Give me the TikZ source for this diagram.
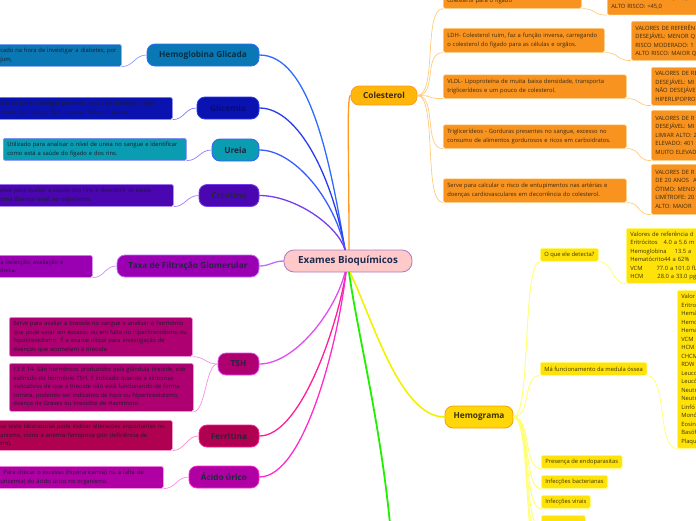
\documentclass[tikz,border=0pt]{standalone}
\usepackage{fontspec}
\setmainfont{Open Sans}
\usepackage{xcolor}

% colours of the branches
\definecolor{exfill}{HTML}{FFC9C9}
\definecolor{exline}{HTML}{A77BC2}
\definecolor{extext}{HTML}{1C2B4F}
\definecolor{inktext}{HTML}{1C1C2C}
\definecolor{topictext}{HTML}{24253F}
\definecolor{hglfill}{HTML}{0A78B4}
\definecolor{hglline}{HTML}{2F6BFF}
\definecolor{hglsoft}{HTML}{8A9CFF}
\definecolor{glifill}{HTML}{0A12B0}
\definecolor{gliline}{HTML}{2A3AF0}
\definecolor{glisoft}{HTML}{7C7CFF}
\definecolor{urefill}{HTML}{0A9CB0}
\definecolor{ureline}{HTML}{3A5CFF}
\definecolor{uresoft}{HTML}{8C7CFF}
\definecolor{crefill}{HTML}{4A06B0}
\definecolor{creline}{HTML}{7A3CF0}
\definecolor{cresoft}{HTML}{A57CFF}
\definecolor{tfgfill}{HTML}{9A00B2}
\definecolor{tfgline}{HTML}{BE6CFF}
\definecolor{tfgsoft}{HTML}{CF8CFF}
\definecolor{tshfill}{HTML}{AE0070}
\definecolor{tshline}{HTML}{E24CF2}
\definecolor{tshsoft}{HTML}{F58CE6}
\definecolor{ferfill}{HTML}{B00050}
\definecolor{ferline}{HTML}{FF1E96}
\definecolor{fersoft}{HTML}{FF8CC8}
\definecolor{acufill}{HTML}{B000A4}
\definecolor{aculine}{HTML}{FF2ACB}
\definecolor{acusoft}{HTML}{FF8CE4}
\definecolor{colfill}{HTML}{FFB60A}
\definecolor{colline}{HTML}{FF9A1E}
\definecolor{colbox}{HTML}{F7931E}
\definecolor{colsoft}{HTML}{FFCB7A}
\definecolor{coltext}{HTML}{3B2A12}
\definecolor{hemfill}{HTML}{FFD60A}
\definecolor{hemline}{HTML}{F5A000}
\definecolor{hemlink}{HTML}{F2F200}
\definecolor{hembox}{HTML}{FFE20A}
\definecolor{hemsoft}{HTML}{FFFF70}
\definecolor{hemtext}{HTML}{3B3300}
\definecolor{grnline}{HTML}{22EE00}

\begin{document}
\begin{tikzpicture}[x=1pt, y=-1pt,
	topic/.style={draw, line width=0.8pt, rounded corners=8pt, inner sep=0pt, minimum height=22pt, font=\bfseries\fontsize{8.3}{10}\selectfont, text=topictext},
	note/.style={draw, line width=0.6pt, rounded corners=1.5pt, inner xsep=4pt, inner ysep=0pt, anchor=north west, align=left, font=\fontsize{5.8}{8.5}\selectfont, text=inktext},
	leaf/.style={note, minimum height=13pt, fill=hembox, draw=hemsoft, text=hemtext},
	link/.style={line width=1.3pt, line cap=round},
	twig/.style={line width=0.7pt}]
	\useasboundingbox (0,0) rectangle (696,520);
	\clip (0,0) rectangle (696,520);
	
	% Centre
	\node[topic, fill=exfill, draw=exline, minimum width=128pt, rounded corners=10pt, font=\bfseries\fontsize{9.8}{12}\selectfont, text=extext] (ex) at (348,261) {Exames Bioquímicos};
	
	% Left branches
	\node[topic, fill=hglfill, draw=hglline, minimum width=112pt, text=hglfill!40!black] (hgl) at (203,55) {Hemoglobina Glicada};
	\node[note, fill=hglfill, draw=hglsoft, text width=117pt, minimum height=22pt] (hgln) at (-4,44) {cado na hora de investigar a diabetes, por\\jum,};
	
	\node[topic, fill=glifill, draw=gliline, minimum width=62pt, text=glifill!70!black] (gli) at (228,108) {Glicemia};
	\node[note, fill=glifill, draw=glisoft, text width=168pt, minimum height=22pt] (glin) at (-4,97) {ilizado para investigar possíveis casos de diabetes e para\\ntrole da doença. Tem que ser feito em jejum.};
	
	\node[topic, fill=urefill, draw=ureline, minimum width=47pt] (ure) at (235.5,150) {Ureia};
	\node[note, fill=urefill, draw=uresoft, text width=175pt, minimum height=22pt] (uren) at (3,138) {Utilizado para analisar o nível de ureia no sangue e identificar\\como está a saúde do fígado e dos rins.};
	
	\node[topic, fill=crefill, draw=creline, minimum width=60pt] (cre) at (229,195.5) {Creatina};
	\node[note, fill=crefill, draw=cresoft, text width=169pt, minimum height=22pt] (cren) at (-4,184) {erve para avaliar a saúde dos rins e descobrir se existe\\uma doença renal no organismo.};
	
	\node[topic, fill=tfgfill, draw=tfgline, minimum width=142pt] (tfg) at (188,266) {Taxa de Filtração Glomerular};
	\node[note, fill=tfgfill, draw=tfgsoft, text width=88pt, minimum height=22pt] (tfgn) at (-4,255) {a detecção, avaliação e\\ônica.};
	
	\node[topic, fill=tshfill, draw=tshline, minimum width=41pt] (tsh) at (238.5,364) {TSH};
	\node[note, fill=tshfill, draw=tshsoft, text width=175pt, minimum height=39pt] (tsha) at (9,317) {Serve para avaliar a tireoide no sangue e analisar o hormônio\\que pode estar em excesso ou em falta no hipertireoidismo ou\\hipotireoidismo. É o exame inicial para investigação de\\doenças que acometem a tireoide.};
	\node[note, fill=tshfill, draw=tshsoft, text width=176pt, minimum height=48pt] (tshb) at (9,363) {T3 E T4- São hormônios produzidos  pela glândula tireoide, sob\\estímulo  do hormônio TSH. É indicado quando a sintomas\\indicativos de que a tireoide não está funcionando de forma\\correta, podendo ser indicativo de hipo ou hipertireoidismo,\\doença de Graves ou tireoidite de Hashimoto.};
	
	\node[topic, fill=ferfill, draw=ferline, minimum width=60pt] (fer) at (229,436) {Ferritina};
	\node[note, fill=ferfill, draw=fersoft, text width=168pt, minimum height=30pt] (fern) at (-4,420) {se teste laboratorial pode indicar alterações importantes no\\anismo, como a anemia ferropriva (por deficiência de\\rro).};
	
	\node[topic, fill=acufill, draw=aculine, minimum width=70pt] (acu) at (224,477) {Ácido úrico};
	\node[note, fill=acufill, draw=acusoft, text width=159pt, minimum height=22pt] (acun) at (-4,466) {\hspace*{3pt}Para checar o excesso (hiperuricemia) ou a falta de\\uricemia) do ácido úrico no organismo.};
	
	% Colesterol
	\node[topic, fill=colfill, draw=colline, minimum width=66pt, minimum height=19pt, text=coltext] (col) at (384,95.5) {Colesterol};
	\node[note, fill=colbox, draw=colsoft, text=coltext, text width=130pt, minimum height=15pt] (col1) at (443,-7) {colesterol para o fígado};
	\node[note, fill=colbox, draw=colsoft, text=coltext, text width=153pt, minimum height=24pt] (col2) at (443,28) {LDH- Colesterol ruim,  faz a função inversa, carregando\\o colesterol do fígado  para as células e orgãos.};
	\node[note, fill=colbox, draw=colsoft, text=coltext, text width=175pt, minimum height=23.5pt] (col3) at (443,74.5) {VLDL- Lipoproteína de  muita baixa densidade, transporta\\triglicerídeos e um pouco de colesterol.};
	\node[note, fill=colbox, draw=colsoft, text=coltext, text width=175pt, minimum height=23.5pt] (col4) at (443,124.5) {Triglicerídeos - Gorduras presentes no sangue, excesso no\\consumo de alimentos gordurosos e ricos em carboidratos.};
	\node[note, fill=colbox, draw=colsoft, text=coltext, text width=175pt, minimum height=23.5pt] (col5) at (443,178.5) {Serve para calcular o risco de entupimentos nas artérias e\\doenças cardiovasculares em decorrência do colesterol.};
	
	\node[note, fill=colbox, draw=colsoft, text=coltext, text width=112pt, minimum height=24pt] (val1) at (607,-9.5) {RISCO MODERADO: 45,0-63,0\\ALTO RISCO: <45,0};
	\node[note, fill=colbox, draw=colsoft, text=coltext, text width=112pt, minimum height=39pt] (val2) at (631,21) {VALORES DE REFERÊN\\DESEJÁVEL: MENOR Q\\RISCO MODERADO: 1\\ALTO RISCO: MAIOR Q};
	\node[note, fill=colbox, draw=colsoft, text=coltext, text width=112pt, minimum height=38pt] (val3) at (651,67) {VALORES DE RE\\DESEJÁVEL: MI\\NÃO DESEJÁVE\\HIPERLIPOPRO};
	\node[note, fill=colbox, draw=colsoft, text=coltext, text width=112pt, minimum height=50pt] (val4) at (651,110) {VALORES DE R\\DESEJÁVEL: MI\\LIMIAR ALTO: 2\\ELEVADO: 401\\MUITO ELEVAD};
	\node[note, fill=colbox, draw=colsoft, text=coltext, text width=112pt, minimum height=50pt] (val5) at (651,164) {VALORES DE R\\DE 20 ANOS\hspace{4pt}A\\ÓTIMO: MENO\\LIMÍTROFE: 20\\ALTO: MAIOR};
	
	% Hemograma
	\node[topic, fill=hemfill, draw=hemline, minimum width=68pt, text=hemtext] (hem) at (479,417) {Hemograma};
	\node[leaf] (hem1) at (540,248) {O que ele detecta?};
	\node[leaf] (hem2) at (540,362) {Má funcionamento da medula óssea};
	\node[leaf] (hem3) at (541,455) {Presença de endoparasitas};
	\node[leaf] (hem4) at (541,475) {Infecções bacterianas};
	\node[leaf] (hem5) at (541,495) {Infecções virais};
	\node[leaf, minimum width=44pt] (hem6) at (541,515) {};
	\coordinate (hem7) at (541,548);
	\coordinate (hem8) at (541,568);
	\node[leaf, text width=112pt, minimum height=55pt] (ref1) at (626,228) {Valores de referência d\\Eritrócitos\hspace{6pt}4.0 a 5.6 m\\Hemoglobina\hspace{8pt}13.5 a\\Hematócrito44 a 62\%\\VCM\hspace{14pt}77.0 a 101.0 fL\\HCM\hspace{14pt}28.0 a 33.0 pg};
	\node[leaf, text width=112pt, minimum height=158pt] (ref2) at (677,290) {Valor\\Eritro\\Hemá\\Hemo\\Hema\\VCM\\HCM\\CHCM\\RDW\\Leuco\\Leucó\\Neutr\\Neutr\\Linfó\\Monó\\Eosin\\Basóf\\Plaqu};
	
	% Green branch (its topic lies below the picture)
	\coordinate (grn) at (393,560);
	
	% Links from the centre
	\draw[link, hglline] ([xshift=-3pt]ex.north) .. controls +(-15,-90) and +(50,0) .. (hgl.east);
	\draw[link, gliline] ([xshift=-3pt]ex.north) .. controls +(-12,-70) and +(40,0) .. (gli.east);
	\draw[link, ureline] ([xshift=-3pt]ex.north) .. controls +(-10,-50) and +(35,0) .. (ure.east);
	\draw[link, creline] ([xshift=-3pt]ex.north) .. controls +(-8,-25) and +(35,0) .. (cre.east);
	\draw[link, tfgline] (ex.west) .. controls +(-10,0) and +(10,0) .. (tfg.east);
	\draw[link, tshline] ([xshift=-3pt]ex.south) .. controls +(-10,40) and +(35,0) .. (tsh.east);
	\draw[link, ferline] ([xshift=-2pt]ex.south) .. controls +(-10,60) and +(40,0) .. (fer.east);
	\draw[link, aculine] ([xshift=-2pt]ex.south) .. controls +(-8,70) and +(45,0) .. (acu.east);
	\draw[link, colline] ([xshift=1pt]ex.north) .. controls +(0,-100) and +(-4,0) .. (col.west);
	\draw[link, hemlink, line width=1.6pt] ([xshift=2pt]ex.south) .. controls +(22,45) and +(-45,0) .. (hem.west);
	\draw[link, grnline, line width=1.8pt] ([xshift=1pt]ex.south) .. controls +(10,70) and +(-8,-120) .. (grn);
	
	% Notes to their topics
	\draw[twig, hglsoft] (hgln.south east) .. controls +(12,0) and +(-12,0) .. (hgl.west);
	\draw[twig, glisoft] (glin.south east) .. controls +(12,0) and +(-12,0) .. (gli.west);
	\draw[twig, uresoft] (uren.south east) .. controls +(12,0) and +(-12,0) .. (ure.west);
	\draw[twig, cresoft] (cren.south east) .. controls +(12,0) and +(-12,0) .. (cre.west);
	\draw[twig, tfgsoft] (tfgn.south east) .. controls +(12,0) and +(-12,0) .. (tfg.west);
	\draw[twig, tshsoft] (tsha.south east) .. controls +(12,0) and +(-12,0) .. (tsh.west);
	\draw[twig, tshsoft] (tshb.south east) .. controls +(12,0) and +(-12,0) .. (tsh.west);
	\draw[twig, fersoft] (fern.south east) .. controls +(12,0) and +(-12,0) .. (fer.west);
	\draw[twig, acusoft] (acun.south east) .. controls +(12,0) and +(-12,0) .. (acu.west);
	
	% Colesterol children and values
	\foreach \k in {1,...,5} {
		\draw[twig, colsoft] (col.east) .. controls +(20,0) and +(-20,0) .. (col\k.south west);
		\draw[twig, colsoft] (col\k.south east) .. controls +(15,0) and +(-15,0) .. (val\k.south west);
	}
	
	% Hemograma children and values
	\foreach \k in {1,...,6} {
		\draw[twig, hemsoft, line width=0.9pt] (hem.east) .. controls +(18,0) and +(-18,0) .. (hem\k.south west);
	}
	\foreach \k in {7,8} {
		\draw[twig, hemsoft, line width=0.9pt] (hem.east) .. controls +(18,0) and +(-18,0) .. (hem\k);
	}
	\draw[twig, hemsoft] (hem1.south east) .. controls +(15,0) and +(-15,0) .. (ref1.south west);
	\draw[twig, hemsoft] (hem2.south east) .. controls +(20,0) and +(-20,0) .. (ref2.south west);
\end{tikzpicture}
\end{document}
